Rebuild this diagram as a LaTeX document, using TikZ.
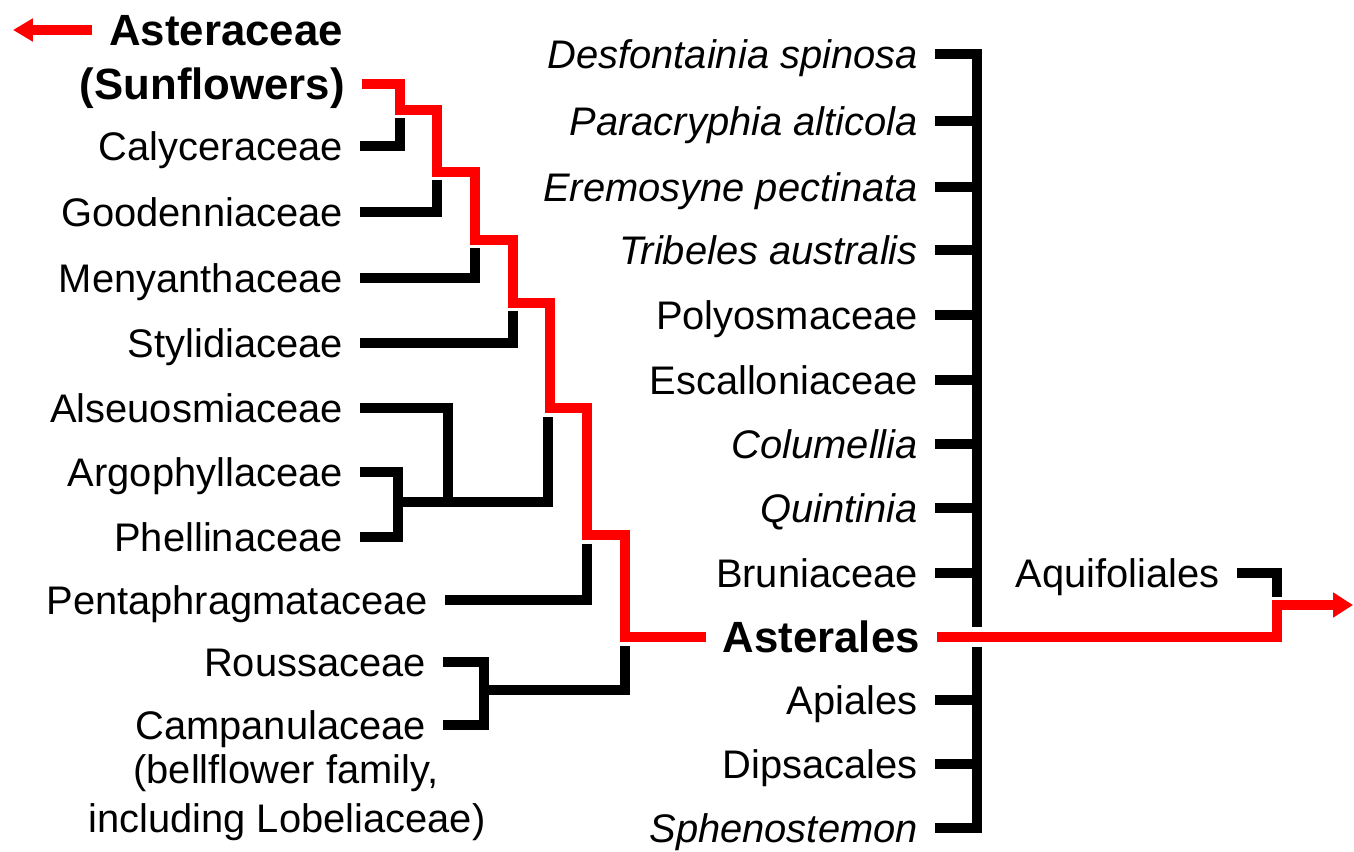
\documentclass[tikz,border=0pt]{standalone}
\usepackage{fontspec}
\setmainfont{Liberation Sans}
\usetikzlibrary{arrows.meta}
\begin{document}
\begin{tikzpicture}[x=0.02cm,y=-0.02cm,line join=miter,
  lbl/.style={anchor=east,inner xsep=9.6pt,inner ysep=0pt,text height=16.3pt,text depth=0pt,
    font={\fontsize{22.7pt}{28.4pt}\selectfont}},
  ilbl/.style={lbl,font={\fontsize{22.7pt}{28.4pt}\selectfont\itshape}},
  blbl/.style={lbl,text height=17.8pt,font={\fontsize{24.9pt}{31pt}\selectfont\bfseries}},
  note/.style={anchor=base,inner sep=0pt,font={\fontsize{22.7pt}{28.4pt}\selectfont}},
  branch/.style={line width=5.67pt,black},
  redline/.style={line width=5.67pt,red},
  tipL/.style={-{Triangle[length=11.3pt,width=12.5pt]}},
  tipR/.style={-{Triangle[length=11.3pt,width=13.6pt]}}]
\useasboundingbox (0,0) rectangle (1354,851);

% ---- left labels ----
\node[blbl] (ast1) at (360,30) {Asteraceae};
\node[blbl] (ast2) at (362,84) {(Sunflowers)};
\node[lbl] (calyc) at (360,146) {Calyceraceae};
\node[lbl] (good) at (360,212) {Goodenniaceae};
\node[lbl] (meny) at (360,278) {Menyanthaceae};
\node[lbl] (styl) at (360,343) {Stylidiaceae};
\node[lbl] (alse) at (360,408) {Alseuosmiaceae};
\node[lbl] (argo) at (360,472) {Argophyllaceae};
\node[lbl] (phel) at (360,537) {Phellinaceae};
\node[lbl] (penta) at (445,600) {Pentaphragmataceae};
\node[lbl] (rouss) at (443,662) {Roussaceae};
\node[lbl] (campa) at (443,725) {Campanulaceae};
\node[note] (cn1) at (286,783) {(bellflower family,};
\node[note] (cn2) at (287,832) {including Lobeliaceae)};

% ---- right column labels ----
\node[ilbl] (desf) at (935,54) {Desfontainia spinosa};
\node[ilbl] (para) at (935,121) {Paracryphia alticola};
\node[ilbl] (erem) at (935,187) {Eremosyne pectinata};
\node[ilbl] (trib) at (935,250) {Tribeles australis};
\node[lbl] (poly) at (935,315) {Polyosmaceae};
\node[lbl] (esca) at (935,380) {Escalloniaceae};
\node[ilbl] (colu) at (935,444) {Columellia};
\node[ilbl] (quin) at (935,508) {Quintinia};
\node[lbl] (brun) at (935,573) {Bruniaceae};
\node[blbl] (astl) at (937,637) {Asterales};
\node[lbl] (apia) at (935,700) {Apiales};
\node[lbl] (dips) at (935,764) {Dipsacales};
\node[ilbl] (spheno) at (935,828) {Sphenostemon};
\node[lbl] (aqui) at (1237,573) {Aquifoliales};

% ---- coordinates ----
\coordinate (rtop) at (977,54);
\coordinate (rbot) at (977,828);
\coordinate (atipL) at (13,30);
\coordinate (atipR) at (1353,605);
\coordinate (j1) at (398,502);
\coordinate (j2) at (484,690);

% ---- right comb ----
\draw[branch] (desf.east) -- (rtop) -- (977,627);
\draw[branch] (977,647) -- (rbot) -- (spheno.east);
\foreach \n in {para,erem,trib,poly,esca,colu,quin,brun,apia,dips}
  \draw[branch] (\n.east) -- (\n.east -| rtop);

% ---- left black branches ----
\draw[branch] (calyc.east) -| (400,118);
\draw[branch] (good.east) -| (437,180);
\draw[branch] (meny.east) -| (475,248);
\draw[branch] (styl.east) -| (513,311);
\draw[branch] (alse.east) -| (448,502);
\draw[branch] (argo.east) -| (398,537) -- (phel.east);
\draw[branch] (j1) -| (548,417);
\draw[branch] (penta.east) -| (587,544);
\draw[branch] (rouss.east) -| (484,725) -- (campa.east);
\draw[branch] (j2) -| (625,646);
\draw[branch] (aqui.east) -| (1277,597);

% ---- red lineage ----
\draw[redline,tipL] (ast1.west) -- (ast1.west -| atipL);
\draw[redline] (ast2.east) -| (400,110) -| (437,172) -| (475,240) -| (513,303)
  -| (550,408) -| (587,535) -| (625,637) -- (astl.west);
\draw[redline,tipR] (astl.east) -| (1277,605) -- (atipR);
\end{tikzpicture}
\end{document}
